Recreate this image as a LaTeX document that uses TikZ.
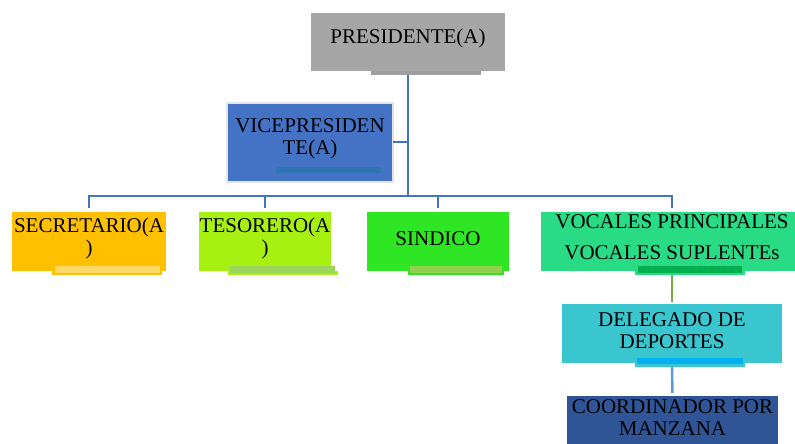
\documentclass[tikz,border=0pt]{standalone}
\usepackage{fontspec}
\setmainfont{Liberation Serif}
\definecolor{gris}{HTML}{A6A6A6}
\definecolor{azul}{HTML}{4472C4}
\definecolor{azulbarra}{HTML}{2E75B6}
\definecolor{bordegris}{HTML}{E4E4E4}
\definecolor{amarillo}{HTML}{FFC000}
\definecolor{amarilloclaro}{HTML}{FFD966}
\definecolor{limon}{HTML}{A6F012}
\definecolor{limonbarra}{HTML}{9BD45A}
\definecolor{verde}{HTML}{2EE624}
\definecolor{verdebarra}{HTML}{92D050}
\definecolor{menta}{HTML}{2ADB85}
\definecolor{mentabarra}{HTML}{00B050}
\definecolor{turquesa}{HTML}{3AC6CF}
\definecolor{celeste}{HTML}{00B0F0}
\definecolor{marino}{HTML}{2F5597}
\definecolor{verdelinea}{HTML}{70AD47}
\definecolor{azullinea}{HTML}{5B9BD5}
\begin{document}
\begin{tikzpicture}[x=1pt, y=-1pt,
    cargo/.style={anchor=north, inner sep=0pt, align=center,
      font=\fontsize{21}{22}\selectfont},
    linea/.style={draw=azul, line width=2.8pt}]
      \clip (0,0) rectangle (795,444);

      % presidente
      \node [cargo, fill=gris, minimum width=194, minimum height=50] (pres) at (408,13) {PRESIDENTE(A)};
      \fill [gris] (pres.south west) rectangle (pres.east |- 0,71);
      \fill [gris!95!black] (371,71) rectangle (481,75);

      % vicepresidente
      \node [cargo, fill=azul, minimum width=166, minimum height=72] (vice) at (310,103) {VICEPRESIDEN\\TE(A)};
      \fill [azul] (vice.south west) rectangle (vice.east |- 0,182);
      \draw [bordegris, line width=2pt] (vice.north west) rectangle (vice.east |- 0,182);
      \fill [azulbarra] (276,167) rectangle (381,173);

      % segunda fila
      \node [cargo, fill=amarillo, minimum width=154, minimum height=53] (sec) at (89,212) {SECRETARIO(A\\)};
      \fill [amarillo] (sec.south west) rectangle (sec.east |- 0,271);
      \fill [amarillo] (52,271) rectangle (162,275);
      \fill [amarilloclaro] (55,266) rectangle (160,273);

      \node [cargo, fill=limon, minimum width=132, minimum height=53] (tes) at (265,212) {TESORERO(A\\)};
      \fill [limon] (tes.south west) rectangle (tes.east |- 0,271);
      \fill [limon] (228,271) rectangle (338,275);
      \fill [limonbarra] (230,266) rectangle (335,273);

      \node [cargo, fill=verde, minimum width=142, minimum height=52] (sin) at (438,212) {SINDICO};
      \fill [verde] (sin.south west) rectangle (sin.east |- 0,271);
      \fill [verde] (408,271) rectangle (504,275);
      \fill [verdebarra] (410,266) rectangle (502,273);

      \node [cargo, fill=menta, minimum width=262, minimum height=51] (voc) at (672,212) {VOCALES PRINCIPALES\\[9pt]VOCALES SUPLENTEs};
      \fill [menta] (voc.south west) rectangle (voc.east |- 0,271);
      \fill [menta] (635,271) rectangle (745,275);
      \fill [mentabarra] (638,266) rectangle (742,273);

      % columna derecha
      \node [cargo, fill=turquesa, minimum width=220, minimum height=52] (del) at (672,304) {DELEGADO DE\\DEPORTES};
      \fill [turquesa] (del.south west) rectangle (del.east |- 0,363);
      \fill [turquesa] (635,363) rectangle (745,367);
      \fill [celeste] (637,358) rectangle (743,364);

      \node [cargo, fill=marino, minimum width=211, minimum height=43] (coord) at (672.5,396) {COORDINADOR POR\\MANZANA};
      \fill [marino] (coord.south west) rectangle (coord.east |- 0,450);

      % lineas
      \coordinate (bus) at (408,196);
      \draw [linea] (pres.south |- 0,75) -- (bus);
      \draw [linea] (vice.east |- 0,142) -- (pres.south |- 0,142);
      \draw [linea, shorten >=4pt] (bus) -| (sec.north);
      \draw [linea, shorten >=4pt] (bus) -| (tes.north);
      \draw [linea, shorten >=4pt] (bus) -| (sin.north);
      \draw [linea, shorten >=4pt] (bus) -| (voc.north);
      \draw [verdelinea, line width=2.5pt, shorten >=2pt] (voc.south |- 0,275) -- (del.north);
      \draw [azullinea, line width=2.5pt, shorten >=3pt] (del.south |- 0,367) -- (coord.north);

    \end{tikzpicture}
\end{document}
